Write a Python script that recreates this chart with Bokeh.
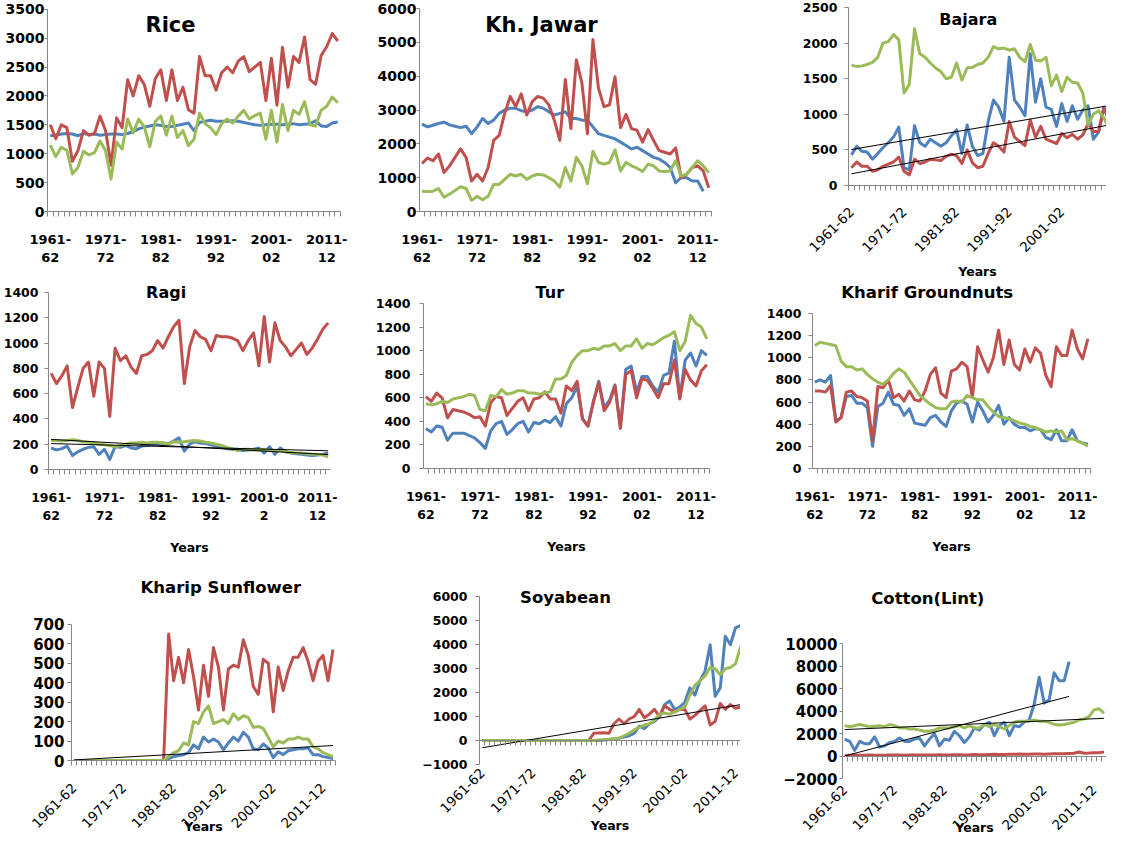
import math
from bokeh.plotting import figure
from bokeh.layouts import row, column
from bokeh.models import Range1d, FixedTicker, LinearAxis, Label
from bokeh.embed import file_html
from bokeh.resources import INLINE

NaN = float("nan")

YEARS = ["1961-62", "1962-63", "1963-64", "1964-65", "1965-66", "1966-67", "1967-68", "1968-69",
         "1969-70", "1970-71", "1971-72", "1972-73", "1973-74", "1974-75", "1975-76", "1976-77",
         "1977-78", "1978-79", "1979-80", "1980-81", "1981-82", "1982-83", "1983-84", "1984-85",
         "1985-86", "1986-87", "1987-88", "1988-89", "1989-90", "1990-91", "1991-92", "1992-93",
         "1993-94", "1994-95", "1995-96", "1996-97", "1997-98", "1998-99", "1999-00", "2000-01",
         "2001-02", "2002-03", "2003-04", "2004-05", "2005-06", "2006-07", "2007-08", "2008-09",
         "2009-10", "2010-11", "2011-12", "2012-13", "2013-14"]
LABELLED = [0, 10, 20, 30, 40, 50]

# ---------------- data (blue, red, green) ----------------
RICE_BLUE = [1310, 1320, 1340, 1350, 1340, 1310, 1350, 1330, 1340, 1320, 1330, 1340, 1340, 1330, 1350, 1380, 1430, 1460, 1480, 1500,
             1490, 1470, 1470, 1490, 1510, 1530, 1400, 1540, 1560, 1580, 1560, 1560, 1560, 1570, 1560, 1540, 1520, 1500, 1490, 1500,
             1510, 1510, 1500, 1510, 1520, 1500, 1510, 1520, 1570, 1480, 1470, 1530, 1550]
RICE_RED = [1500, 1260, 1500, 1450, 870, 1050, 1400, 1320, 1350, 1650, 1400, 800, 1620, 1450, 2280, 2000, 2350, 2200, 1820, 2300,
            2450, 1920, 2450, 1920, 2150, 1760, 1700, 2680, 2350, 2350, 2100, 2400, 2500, 2400, 2600, 2680, 2420, 2500, 2580, 1920,
            2650, 1840, 2840, 2150, 2680, 2580, 3020, 2280, 2200, 2700, 2850, 3080, 2950]
RICE_GREEN = [1150, 950, 1110, 1060, 650, 760, 1040, 980, 1020, 1220, 1050, 560, 1200, 1080, 1600, 1360, 1600, 1470, 1120, 1560,
              1650, 1320, 1650, 1280, 1400, 1140, 1250, 1700, 1520, 1450, 1330, 1520, 1600, 1530, 1650, 1750, 1600, 1660, 1700, 1250,
              1750, 1200, 1850, 1400, 1750, 1680, 1900, 1500, 1480, 1750, 1820, 1980, 1880]

JAWAR_BLUE = [2580, 2500, 2550, 2600, 2640, 2560, 2520, 2480, 2520, 2300, 2500, 2750, 2600, 2700, 2900, 3000, 3050, 3050, 2980, 2950,
              3000, 3100, 3050, 2950, 2850, 2900, 2950, 2750, 2750, 2700, 2700, 2500, 2300, 2250, 2200, 2150, 2050, 1950, 1850, 1900,
              1800, 1700, 1600, 1550, 1450, 1300, 850, 1000, 1000, 900, 900, 600, NaN]
JAWAR_RED = [1420, 1580, 1500, 1700, 1150, 1350, 1600, 1850, 1600, 900, 1100, 900, 1300, 2100, 2250, 2900, 3400, 3100, 3480, 2850,
             3250, 3400, 3350, 3150, 2700, 2100, 3900, 2450, 4480, 3800, 2300, 5080, 3650, 3100, 3150, 3980, 2480, 2870, 2450, 2400,
             2050, 2420, 2100, 1800, 1750, 1700, 1880, 1000, 1100, 1300, 1350, 1200, 700]
JAWAR_GREEN = [600, 590, 600, 680, 420, 520, 620, 730, 680, 330, 450, 350, 450, 800, 800, 950, 1100, 1050, 1100, 950,
               1050, 1100, 1080, 1000, 900, 720, 1300, 900, 1600, 1350, 820, 1780, 1450, 1400, 1450, 1820, 1200, 1450, 1350, 1280,
               1180, 1400, 1350, 1200, 1180, 1200, 1500, 1050, 1100, 1300, 1500, 1350, 1150]

BAJARA_BLUE = [430, 550, 480, 470, 370, 450, 530, 600, 680, 820, 250, 220, 840, 600, 550, 650, 600, 550, 600, 700,
               780, 450, 850, 550, 420, 450, 900, 1200, 1100, 900, 1800, 1200, 1100, 980, 1850, 1170, 1500, 1100, 1070, 830,
               1150, 900, 1120, 930, 1060, 1120, 650, 750, 1100, 900, 500, 500, 520]
BAJARA_RED = [250, 330, 270, 270, 200, 220, 270, 300, 330, 400, 200, 150, 370, 310, 330, 370, 360, 350, 410, 440,
              420, 310, 500, 320, 250, 270, 450, 600, 550, 470, 900, 680, 620, 560, 920, 680, 830, 650, 620, 590,
              730, 670, 720, 650, 710, 870, 760, 760, 1080, 950, 620, 600, 650]
BAJARA_GREEN = [1690, 1670, 1680, 1700, 1730, 1800, 2000, 2020, 2120, 2050, 1300, 1420, 2200, 1850, 1800, 1720, 1650, 1600, 1500, 1520,
                1720, 1480, 1650, 1660, 1700, 1720, 1800, 1950, 1920, 1930, 1900, 1920, 1800, 1740, 1980, 1760, 1750, 1800, 1400, 1550,
                1320, 1520, 1450, 1440, 1300, 850, 1000, 1050, 950, 800, 780, 760, 800]

RAGI_BLUE = [170, 155, 165, 185, 110, 140, 160, 175, 180, 120, 160, 80, 180, 175, 190, 170, 165, 185, 190, 200,
             205, 210, 205, 225, 250, 145, 200, 220, 210, 205, 195, 185, 175, 165, 160, 160, 150, 155, 160, 170,
             130, 180, 120, 170, 140, 130, 125, 120, 115, 110, 115, 120, 130]
RAGI_RED = [760, 680, 740, 820, 490, 650, 800, 850, 580, 850, 800, 420, 960, 860, 900, 810, 760, 900, 910, 940,
            1020, 960, 1050, 1130, 1180, 680, 970, 1100, 1050, 1030, 940, 1060, 1050, 1050, 1040, 1020, 940, 1020, 1080, 820,
            1210, 850, 1160, 1020, 970, 900, 950, 1000, 910, 960, 1030, 1110, 1160]
RAGI_GREEN = [230, 230, 225, 230, 235, 230, 220, 215, 210, 200, 195, 190, 180, 190, 200, 210, 210, 215, 210, 215,
              215, 210, 200, 220, 215, 220, 225, 230, 225, 215, 210, 200, 190, 175, 165, 150, 160, 160, 155, 155,
              160, 150, 145, 150, 140, 135, 130, 130, 125, 120, 120, 115, 100]

TUR_BLUE = [340, 310, 360, 350, 240, 300, 300, 300, 280, 260, 220, 170, 320, 380, 400, 290, 330, 380, 400, 310,
            390, 380, 410, 390, 440, 360, 550, 600, 700, 420, 360, 570, 740, 520, 580, 710, 350, 840, 870, 650,
            780, 780, 700, 650, 790, 810, 1080, 600, 920, 980, 870, 1000, 960]
TUR_RED = [610, 570, 640, 600, 430, 500, 490, 480, 460, 430, 440, 360, 560, 610, 600, 450, 510, 570, 600, 490,
           590, 600, 650, 590, 590, 470, 700, 660, 740, 420, 360, 560, 730, 490, 560, 700, 340, 800, 830, 600,
           760, 750, 680, 600, 720, 720, 920, 590, 840, 750, 700, 830, 880]
TUR_GREEN = [550, 540, 550, 570, 560, 590, 600, 610, 630, 620, 500, 490, 620, 610, 670, 630, 640, 660, 660, 640,
             640, 630, 640, 650, 760, 760, 790, 900, 960, 1000, 1000, 1020, 1010, 1040, 1040, 1060, 1000, 1040, 1040, 1100,
             1020, 1060, 1050, 1080, 1110, 1130, 1160, 1000, 1080, 1300, 1230, 1200, 1100]

KG_BLUE = [780, 800, 780, 840, 430, 460, 650, 660, 590, 590, 550, 200, 560, 590, 690, 580, 570, 480, 540, 410,
           400, 390, 460, 480, 420, 380, 520, 590, 610, 580, 420, 600, 520, 420, 480, 570, 400, 460, 400, 370,
           370, 340, 360, 350, 280, 260, 350, 250, 250, 350, 250, 230, 220]
KG_RED = [700, 700, 690, 750, 420, 460, 690, 700, 650, 640, 610, 250, 740, 730, 800, 640, 670, 610, 700, 620,
          610, 700, 850, 910, 680, 640, 880, 900, 960, 920, 640, 1100, 980, 870, 1000, 1250, 940, 1160, 940, 890,
          1080, 960, 1090, 1040, 840, 740, 1100, 1020, 1020, 1250, 1080, 990, 1170]
KG_GREEN = [1110, 1140, 1130, 1120, 1110, 970, 920, 920, 890, 900, 850, 810, 780, 760, 800, 860, 900, 870, 800, 730,
            660, 620, 580, 550, 540, 540, 600, 610, 600, 660, 640, 620, 620, 560, 510, 470, 460, 450, 430, 410,
            400, 380, 370, 350, 330, 340, 330, 340, 260, 270, 250, 230, 200]

SUNF_BLUE = [0, 0, 0, 0, 0, 0, 0, 0, 0, 0, 0, 0, 0, 0, 0, 0, 0, 0, 0,
             10, 20, 25, 30, 40, 80, 60, 120, 95, 110, 95, 55, 90, 120, 100, 145, 120, 60, 55, 85,
             65, 15, 45, 30, 50, 55, 60, 60, 65, 30, 30, 20, 15, 10]
SUNF_RED = [0, 0, 0, 0, 0, 0, 0, 0, 0, 0, 0, 0, 0, 0, 0, 0, 0, 0, 0,
            650, 410, 530, 400, 570, 430, 260, 490, 330, 580, 480, 260, 470, 490, 480, 620, 540, 380, 340, 520,
            500, 250, 480, 360, 460, 530, 530, 580, 510, 410, 510, 540, 410, 570]
SUNF_GREEN = [0, 0, 0, 0, 0, 0, 0, 0, 0, 0, 0, 0, 0, 0, 0, 0, 0, 0, 0,
              20, 40, 50, 90, 80, 200, 190, 250, 280, 190, 200, 210, 190, 240, 210, 230, 220, 170, 175, 165,
              120, 70, 100, 90, 110, 110, 120, 110, 110, 70, 60, 40, 30, 20]

SOY_BLUE = [0, 0, 0, 0, 0, 0, 0, 0, 0, 0, 0, 0, 0, 0, 0, 0, 0, 0, 0, 0, 0, 0, 0, 0,
            20, 40, 60, 100, 150, 200, 300, 600, 500, 700, 800, 1000, 1500, 1650, 1300, 1400, 1600, 2200, 1900, 2500,
            2900, 4000, 1850, 2200, 4350, 4000, 4700, 4800, 4850]
SOY_RED = [0, 0, 0, 0, 0, 0, 0, 0, 0, 0, 0, 0, 0, 0, 0, 0, 0, 0, 0, 0, 0, 0,
           300, 320, 330, 300, 700, 900, 700, 900, 1000, 1300, 950, 1100, 1300, 1000, 1450, 1300, 1200, 1300, 1300, 900,
           1050, 1250, 1450, 650, 800, 1550, 1300, 1500, 1350, 1400, 1200]
SOY_GREEN = [0, 0, 0, 0, 0, 0, 0, 0, 0, 0, 0, 0, 0, 0, 0, 0, 0, 0, 0, 0, 0, 0, 0,
             20, 30, 50, 80, 100, 200, 300, 450, 550, 650, 700, 850, 1100, 1150, 1100, 1200, 1300, 1400, 1900, 2300,
             2500, 2700, 3050, 3000, 2750, 3000, 3050, 3200, 3900, 3950]

COTTON_BLUE = [1500, 1300, 500, 1300, 1100, 1100, 1700, 800, 900, 1200, 1300, 1600, 1300, 1300, 1500, 1600, 900, 1500, 2000, 900,
               1500, 1400, 2200, 1800, 1200, 1700, 2500, 2300, 2800, 3000, 1800, 2700, 3000, 1800, 2700, 2600, 3000, 3200, 4600, 7000,
               4700, 5000, 7400, 6700, 6700, 8400, NaN, NaN, NaN, NaN, NaN, NaN, NaN]
COTTON_RED = [30, 60, 80, 60, 70, 80, 60, 70, 60, 80, 90, 80, 70, 80, 90, 100, 80, 90, 100, 110,
              100, 90, 110, 120, 100, 110, 130, 120, 110, 140, 150, 130, 140, 160, 150, 170, 160, 150, 180, 170,
              160, 180, 200, 190, 210, 230, 250, 350, 250, 260, 280, 300, 350]
COTTON_GREEN = [2700, 2600, 2700, 2800, 2700, 2600, 2650, 2700, 2600, 2800, 2700, 2500, 2500, 2400, 2400, 2300, 2200, 2200, 2300, 2500,
                2500, 2500, 2600, 2700, 2500, 2700, 2500, 2500, 2800, 2600, 2800, 2600, 2400, 2700, 3000, 3100, 3100, 3100, 3200, 3100,
                3100, 3000, 2800, 2750, 2800, 2900, 3000, 3200, 3300, 3500, 4100, 4200, 3800]

# linear trend lines (value at first and last point of the fitted series)
RAGI_TREND_GREEN = [238, 118]
RAGI_TREND_BLUE = [205, 148]
BAJARA_TREND_BLUE = [505, 1160]
BAJARA_TREND_RED = [164, 893]
SUNF_TREND_BLUE = [3, 77]
SOY_TREND_RED = [-300, 1535]
COTTON_TREND_BLUE = [0, 5300]
COTTON_TREND_GREEN = [2350, 3350]

Y_RICE = [0, 500, 1000, 1500, 2000, 2500, 3000, 3500]
Y_JAWAR = [0, 1000, 2000, 3000, 4000, 5000, 6000]
Y_BAJARA = [0, 500, 1000, 1500, 2000, 2500]
Y_1400 = [0, 200, 400, 600, 800, 1000, 1200, 1400]
Y_SUNF = [0, 100, 200, 300, 400, 500, 600, 700]
Y_SOY = [-1000, 0, 1000, 2000, 3000, 4000, 5000, 6000]
Y_COTTON = [-2000, 0, 2000, 4000, 6000, 8000, 10000]

# ---------------- styling / layout ----------------
BLUE, RED, GREEN, AXIS = "#4F81BD", "#C0504D", "#9BBB59", "#868686"
FONT = "DejaVu Sans"
COL_EDGES = [8, 374, 748, 1114]
ROW_EDGES = [8, 290, 570, 846]


def last_valid(vals):
    idx = [i for i, v in enumerate(vals) if v == v]
    return idx[-1]


def make_panel(r, c, axis_box, yticks, series, title, title_xy, title_fs=16.5, x_end=None,
               rotated=False, xfs=13, yfs=14, ytick=4, ystand=3, xstand=15, years_std=None,
               zero_axis=False, trends=(), overrides=None):
    L, R, T, B = axis_box
    cx0, cx1 = COL_EDGES[c], COL_EDGES[c + 1]
    cy0, cy1 = ROW_EDGES[r], ROW_EDGES[r + 1]
    n = len(YEARS)
    x0, x1 = -0.5, (n - 0.5 if x_end is None else x_end)
    ymin, ymax = yticks[0], yticks[-1]

    bl = round(L - cx0)
    br = max(0, round(cx1 - R))
    t_ext = max(cy0 + 1, min(T, title_xy[1] - title_fs * 0.75))
    bt = round(t_ext - cy0)
    bb = round(cy1 - B)
    FL, FR, FT = cx0 + bl, cx1 - br, cy0 + bt

    sx = (R - L) / (x1 - x0)
    sy = (B - T) / (ymax - ymin)
    xr0 = x0 - (L - FL) / sx
    xr1 = x1 + (FR - R) / sx
    yr1 = ymax + (T - FT) / sy

    p = figure(width=cx1 - cx0, height=cy1 - cy0, output_backend="svg", toolbar_location=None,
               x_range=Range1d(xr0, xr1), y_range=Range1d(ymin, yr1),
               min_border_left=bl, min_border_right=br, min_border_top=bt, min_border_bottom=bb)
    p.outline_line_color = None
    p.xgrid.visible = False
    p.ygrid.visible = False
    p.background_fill_color = "white"
    p.border_fill_color = "white"

    ya = p.yaxis[0]
    ya.ticker = FixedTicker(ticks=yticks)
    ya.bounds = (ymin, ymax)
    ya.axis_line_color = AXIS
    ya.major_tick_line_color = AXIS
    ya.major_tick_out = ytick
    ya.major_tick_in = 0
    ya.minor_tick_out = 0
    ya.minor_tick_in = 0
    ya.major_label_standoff = max(0, ystand - ytick)
    ya.major_label_text_font = FONT
    ya.major_label_text_font_style = "bold"
    ya.major_label_text_font_size = f"{yfs}px"
    ya.major_label_text_color = "black"

    bounds = [k - 0.5 for k in range(n + 1)]
    labels = {}
    for i in LABELLED:
        labels[i] = YEARS[i] if rotated else YEARS[i].replace("-", "-\n", 1)
    if overrides:
        labels.update(overrides)

    xa = p.xaxis[0]
    xa.bounds = (x0, min(x1, n - 0.5))
    xa.major_tick_out = 0
    xa.major_tick_in = 0
    xa.minor_tick_in = 0
    xa.major_label_standoff = xstand
    xa.major_label_overrides = labels
    xa.major_label_text_font = FONT
    xa.major_label_text_font_style = "normal" if rotated else "bold"
    xa.major_label_text_font_size = f"{xfs}px"
    xa.major_label_text_color = "black"
    if rotated:
        xa.major_label_orientation = math.pi / 4
    if zero_axis:
        xa.ticker = FixedTicker(ticks=LABELLED, minor_ticks=[])
        xa.axis_line_color = None
        xa.minor_tick_out = 0
        za = LinearAxis(fixed_location=0, ticker=FixedTicker(ticks=[], minor_ticks=bounds),
                        bounds=(x0, min(x1, n - 0.5)),
                        axis_line_color=AXIS, major_tick_in=0, major_tick_out=0,
                        minor_tick_in=5, minor_tick_out=0, minor_tick_line_color=AXIS,
                        major_label_text_font_size="0px", major_label_standoff=0)
        p.add_layout(za, "above")
    else:
        xa.ticker = FixedTicker(ticks=LABELLED, minor_ticks=bounds)
        xa.axis_line_color = AXIS
        xa.minor_tick_out = 5
        xa.minor_tick_line_color = AXIS
    if years_std is not None:
        xa.axis_label = "Years"
        xa.axis_label_standoff = years_std
        xa.axis_label_text_font = FONT
        xa.axis_label_text_font_style = "bold"
        xa.axis_label_text_font_size = "12.5px"
        xa.axis_label_text_color = "black"

    xcat = list(range(n))
    for vals, col in zip(series, (BLUE, RED, GREEN)):
        p.line(xcat, vals, line_color=col, line_width=3, line_join="round")
    for tvals, ser in trends:
        p.line([0, last_valid(ser)], tvals, line_color="black", line_width=1)

    px, py = title_xy
    tx = x0 + (px - L) / sx
    ty = ymin + (B - py) / sy
    p.add_layout(Label(x=tx, y=ty, text=title, text_align="center", text_baseline="middle",
                       text_font=FONT, text_font_style="bold", text_font_size=f"{title_fs}px",
                       text_color="black"))
    return p


p1 = make_panel(0, 0, (55, 348, 16.7, 219), Y_RICE, (RICE_BLUE, RICE_RED, RICE_GREEN),
                "Rice", (178, 32), title_fs=21, xfs=13, yfs=14, ytick=3, ystand=3, xstand=15)
p2 = make_panel(0, 1, (426.7, 719, 16, 219), Y_JAWAR, (JAWAR_BLUE, JAWAR_RED, JAWAR_GREEN),
                "Kh. Jawar", (549, 32), title_fs=21, xfs=13, yfs=14, ytick=3, ystand=3, xstand=15)
p3 = make_panel(0, 2, (856.3, 1114, 15, 193.3), Y_BAJARA, (BAJARA_BLUE, BAJARA_RED, BAJARA_GREEN),
                "Bajara", (975.7, 26.7), title_fs=16, x_end=48.5, rotated=True, xfs=13.5, yfs=12.5,
                ystand=11, xstand=19, years_std=5,
                trends=((BAJARA_TREND_BLUE, BAJARA_BLUE), (BAJARA_TREND_RED, BAJARA_RED)))
p4 = make_panel(1, 0, (55, 338.3, 300, 476.7), Y_1400, (RAGI_BLUE, RAGI_RED, RAGI_GREEN),
                "Ragi", (173, 300), title_fs=16, xfs=12.5, yfs=12.5, ystand=10, xstand=15, years_std=14,
                trends=((RAGI_TREND_GREEN, RAGI_GREEN), (RAGI_TREND_BLUE, RAGI_BLUE)),
                overrides={40: "2001-0\n2"})
p5 = make_panel(1, 1, (430.7, 717, 311, 476), Y_1400, (TUR_BLUE, TUR_RED, TUR_GREEN),
                "Tur", (557.3, 300), title_fs=16, xfs=12.5, yfs=12.5, ystand=13, xstand=15, years_std=14)
p6 = make_panel(1, 2, (819.7, 1098, 321, 476), Y_1400, (KG_BLUE, KG_RED, KG_GREEN),
                "Kharif Groundnuts", (934.7, 300), title_fs=16.5, xfs=12.5, yfs=12.5, ystand=11,
                xstand=15, years_std=14)
p7 = make_panel(2, 0, (79, 343, 631.7, 767.7), Y_SUNF, (SUNF_BLUE, SUNF_RED, SUNF_GREEN),
                "Kharip Sunflower", (228.3, 595), title_fs=16.5, rotated=True, xfs=13.5, yfs=15,
                ystand=7, xstand=20, years_std=-16,
                trends=((SUNF_TREND_BLUE, SUNF_BLUE),))
p8 = make_panel(2, 1, (487.3, 748, 604.3, 771.7), Y_SOY, (SOY_BLUE, SOY_RED, SOY_GREEN),
                "Soyabean", (573, 605), title_fs=16.5, x_end=51.0, rotated=True, xfs=13.5, yfs=12.5,
                ystand=12, xstand=6, years_std=-2, zero_axis=True,
                trends=((SOY_TREND_RED, SOY_RED),))
p9 = make_panel(2, 2, (849.7, 1114, 651.7, 788.3), Y_COTTON, (COTTON_BLUE, COTTON_RED, COTTON_GREEN),
                "Cotton(Lint)", (935.3, 605.7), title_fs=16.5, rotated=True, xfs=13.5, yfs=15,
                ytick=3, ystand=5, xstand=9, years_std=-17, zero_axis=True,
                trends=((COTTON_TREND_BLUE, COTTON_BLUE), (COTTON_TREND_GREEN, COTTON_GREEN)))

layout = row(column(row(p1), row(p4), row(p7)),
             column(row(p2), row(p5), row(p8)),
             column(row(p3), row(p6), row(p9)))
open("out.html", "w").write(file_html(layout, INLINE))
